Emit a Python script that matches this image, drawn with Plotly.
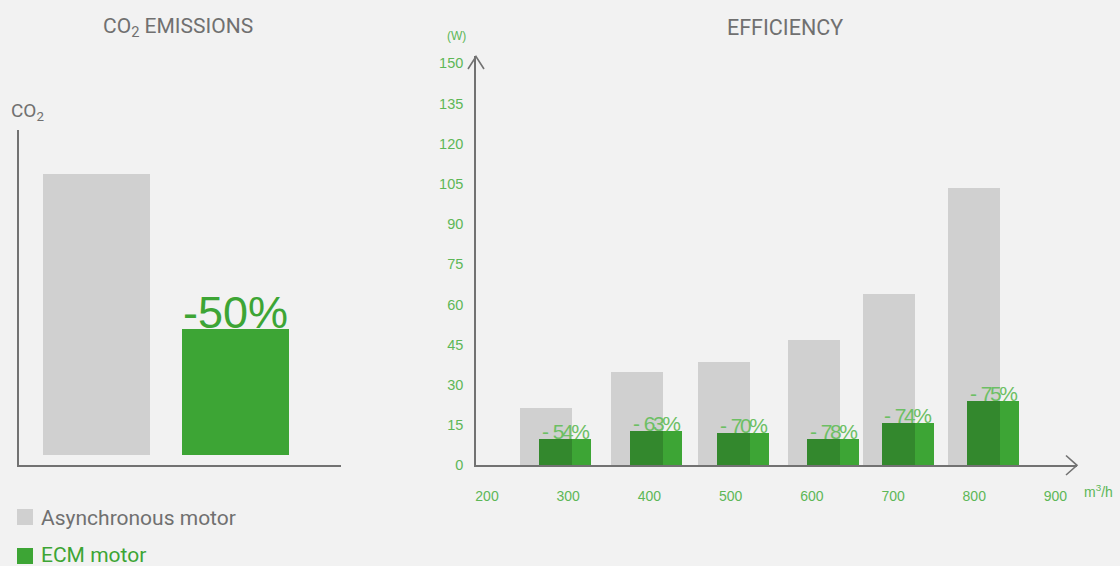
import plotly.graph_objects as go
import numpy as np

W, H = 1120, 566

# ---------------- data ----------------
co2_categories = ["Asynchronous motor", "ECM motor"]
co2_values = [100, 45]
co2_label = "-50%"

airflow = [273, 385, 492, 603, 695, 800]          # m3/h
async_power = [21.4, 34.8, 38.5, 46.7, 63.9, 103.5]  # W
ecm_power = [9.8, 12.8, 12.0, 9.8, 15.8, 24.0]        # W
saving_labels = ["- 54%", "- 63%", "- 70%", "- 78%", "- 74%", "- 75%"]

y_ticks = [0, 15, 30, 45, 60, 75, 90, 105, 120, 135, 150]
x_ticks = [200, 300, 400, 500, 600, 700, 800, 900]

# ---------------- styles ----------------
BG = "#F2F2F2"
GRAY_BAR = "#D0D0D0"
GREEN = "#3DA535"
DARK_GREEN = "#33882D"
LABEL_GREEN = "#5DB757"
PCT_GREEN = "#6CBF64"
TEXT_GRAY = "#707070"
AXIS = "#727272"
TITLE_FONT = "Roboto"
NUM_FONT = "Liberation Sans, Arial"


def px(x):
    return x / W


def py(y):
    return 1 - y / H


def tight_label(lab):
    sign, num = lab.split(" ", 1)
    return (f"<span style='letter-spacing:-1px'>{sign} </span>"
            f"<span style='letter-spacing:-2.5px'>{num}</span>")


fig = go.Figure()

# ---- left panel: CO2 emissions ----
fig.add_trace(go.Bar(
    x=co2_categories, y=co2_values,
    marker=dict(color=[GRAY_BAR, GREEN], line=dict(width=0)),
    width=0.77, xaxis="x", yaxis="y", showlegend=False, hoverinfo="skip",
))

# ---- right panel: efficiency ----
bar_w = 64
shift = 23.4
fig.add_trace(go.Bar(
    x=airflow, y=async_power, width=bar_w, offset=-bar_w / 2,
    marker=dict(color=GRAY_BAR, line=dict(width=0)),
    name="Asynchronous motor", xaxis="x2", yaxis="y2", showlegend=False,
))
fig.add_trace(go.Bar(
    x=airflow, y=ecm_power, width=bar_w, offset=-bar_w / 2 + shift,
    marker=dict(color=GREEN, line=dict(width=0)),
    name="ECM motor", xaxis="x2", yaxis="y2", showlegend=False,
))
overlap = np.minimum(np.array(async_power), np.array(ecm_power))
fig.add_trace(go.Bar(
    x=airflow, y=overlap, width=bar_w - shift, offset=-bar_w / 2 + shift,
    marker=dict(color=DARK_GREEN, line=dict(width=0)),
    xaxis="x2", yaxis="y2", showlegend=False, hoverinfo="skip",
))

annotations = []
for a, e, lab in zip(airflow, ecm_power, saving_labels):
    annotations.append(dict(
        x=a + shift, y=e, xref="x2", yref="y2",
        text=tight_label(lab), showarrow=False,
        xanchor="center", yanchor="bottom", yshift=-6,
        font=dict(family=NUM_FONT, size=21, color=PCT_GREEN),
    ))

annotations.append(dict(
    x=co2_categories[1], y=co2_values[1], xref="x", yref="y", text=co2_label,
    showarrow=False, xanchor="center", yanchor="bottom", yshift=-11,
    font=dict(family=NUM_FONT, size=45, color=GREEN),
))

# titles and axis captions
annotations += [
    dict(x=px(178), y=py(27), xref="paper", yref="paper", text="CO<sub>2</sub> EMISSIONS",
         showarrow=False, xanchor="center", yanchor="middle",
         font=dict(family=TITLE_FONT, size=21, color=TEXT_GRAY)),
    dict(x=px(784.5), y=py(27), xref="paper", yref="paper", text="EFFICIENCY",
         showarrow=False, xanchor="center", yanchor="middle",
         font=dict(family=TITLE_FONT, size=21.5, color=TEXT_GRAY)),
    dict(x=px(9), y=py(111), xref="paper", yref="paper", text="CO<sub>2</sub>",
         showarrow=False, xanchor="left", yanchor="middle",
         font=dict(family=TITLE_FONT, size=19, color=TEXT_GRAY)),
    dict(x=px(456), y=py(36), xref="paper", yref="paper", text="(W)",
         showarrow=False, xanchor="center", yanchor="middle",
         font=dict(family=NUM_FONT, size=12, color=LABEL_GREEN)),
    dict(x=px(1082), y=py(491), xref="paper", yref="paper", text="m<sup>3</sup>/h",
         showarrow=False, xanchor="left", yanchor="middle",
         font=dict(family=NUM_FONT, size=14, color=LABEL_GREEN)),
    # legend texts
    dict(x=px(39), y=py(518), xref="paper", yref="paper", text="Asynchronous motor",
         showarrow=False, xanchor="left", yanchor="middle",
         font=dict(family=TITLE_FONT, size=21, color=TEXT_GRAY)),
    dict(x=px(39), y=py(555), xref="paper", yref="paper", text="ECM motor",
         showarrow=False, xanchor="left", yanchor="middle",
         font=dict(family=TITLE_FONT, size=21, color=GREEN)),
]

shapes = [
    # legend swatches
    dict(type="rect", xref="paper", yref="paper", x0=px(17), x1=px(33), y0=py(525), y1=py(509),
         fillcolor=GRAY_BAR, line=dict(width=0)),
    dict(type="rect", xref="paper", yref="paper", x0=px(17), x1=px(33), y0=py(564), y1=py(548),
         fillcolor=GREEN, line=dict(width=0)),
    # arrow heads
    dict(type="path", xref="paper", yref="paper",
         path=f"M{px(468)},{py(69)} L{px(476)},{py(56.5)} L{px(484)},{py(69)}",
         line=dict(color=AXIS, width=1.6)),
    dict(type="path", xref="paper", yref="paper",
         path=f"M{px(1066)},{py(455.5)} L{px(1077)},{py(465.3)} L{px(1066)},{py(475)}",
         line=dict(color=AXIS, width=1.6)),
]

# right panel x range from pixel geometry (200 at 487px, 0.8121 px per unit)
x2_lo = 200 + (476 - 487) / 0.8121
x2_hi = 200 + (1077 - 487) / 0.8121
y2_hi = (465.3 - 56) / 2.68

fig.update_layout(
    width=W, height=H, autosize=False,
    margin=dict(l=0, r=0, t=0, b=0, pad=0, autoexpand=False),
    paper_bgcolor=BG, plot_bgcolor=BG,
    barmode="overlay", bargap=0,
    showlegend=False,
    xaxis=dict(domain=[px(19), px(341)], type="category", automargin=False,
               range=[-(96.5 - 19) / 139, (341 - 96.5) / 139],
               showline=True, linecolor=AXIS, linewidth=2,
               showgrid=False, zeroline=False, showticklabels=False, ticks=""),
    yaxis=dict(domain=[py(465), py(130)], range=[-10 / 2.81, (455 - 130) / 2.81],
               automargin=False,
               showline=True, linecolor=AXIS, linewidth=2,
               showgrid=False, zeroline=False, showticklabels=False, ticks=""),
    xaxis2=dict(domain=[px(476), px(1077)], range=[x2_lo, x2_hi], anchor="y2",
                automargin=False,
                showline=True, linecolor=AXIS, linewidth=1.6,
                showgrid=False, zeroline=False,
                tickmode="array", tickvals=x_ticks,
                ticks="outside", ticklen=17, tickcolor="rgba(0,0,0,0)",
                tickfont=dict(family=NUM_FONT, size=14, color=LABEL_GREEN)),
    yaxis2=dict(domain=[py(465.3), py(56)], range=[0, y2_hi], anchor="x2",
                automargin=False,
                showline=True, linecolor=AXIS, linewidth=1.6,
                showgrid=False, zeroline=False,
                tickmode="array", tickvals=y_ticks,
                ticks="outside", ticklen=8, tickcolor="rgba(0,0,0,0)",
                tickfont=dict(family=NUM_FONT, size=14.5, color=LABEL_GREEN)),
    annotations=annotations,
    shapes=shapes,
)

fig.write_html("out.html")
